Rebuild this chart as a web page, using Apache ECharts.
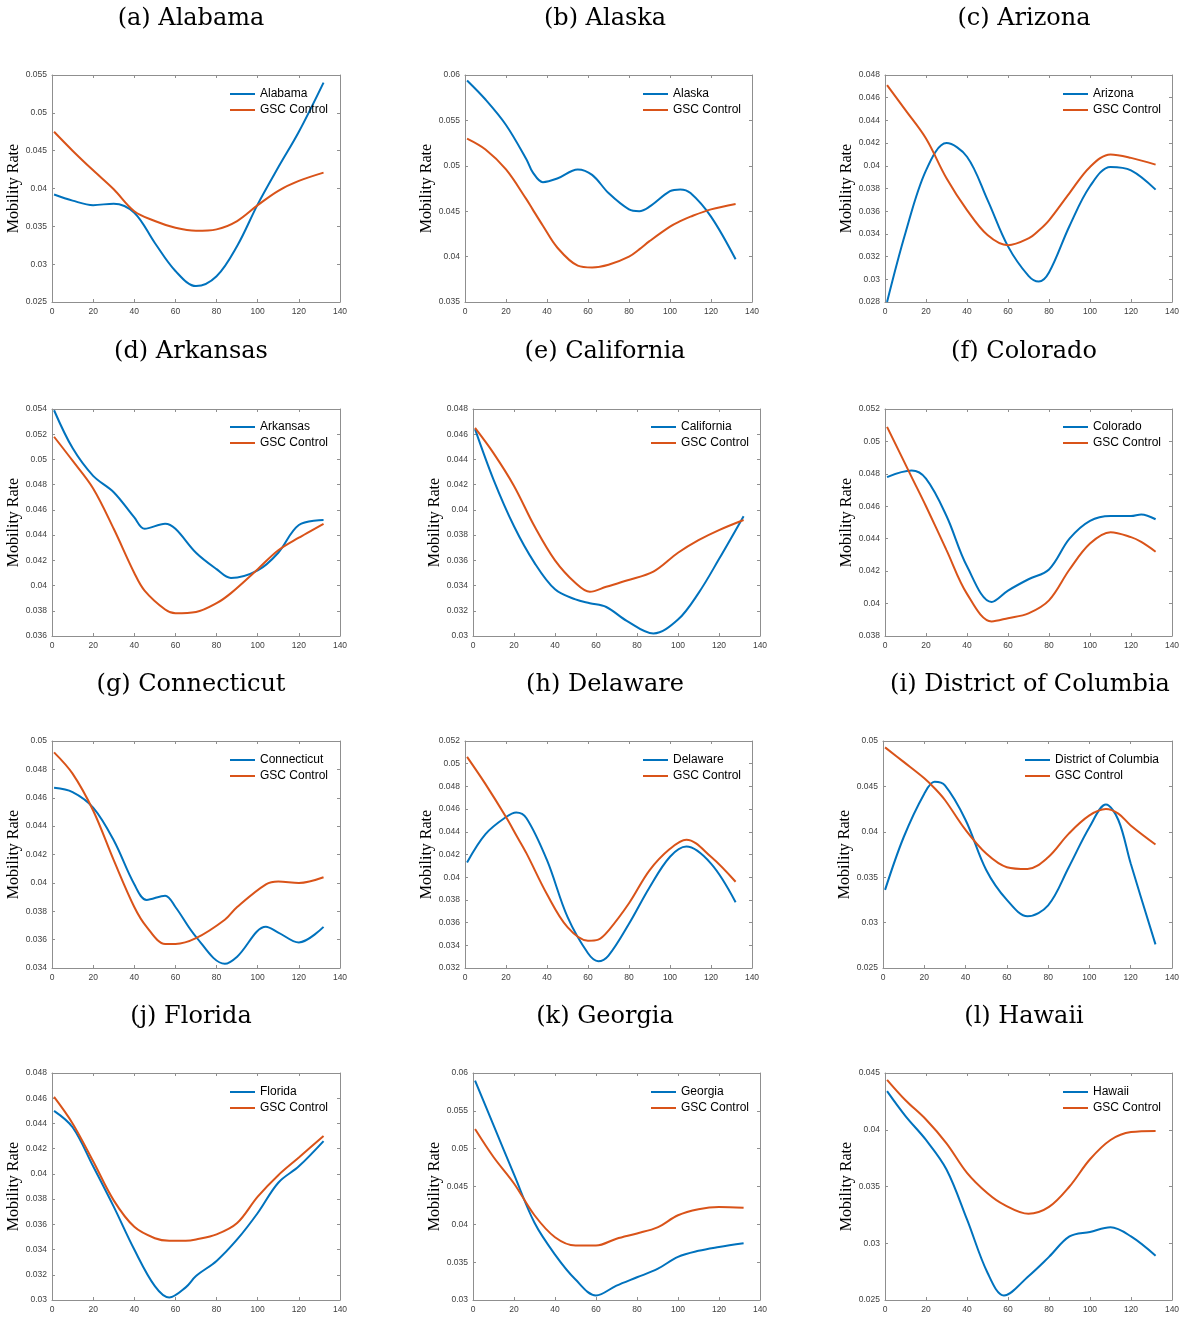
<!DOCTYPE html>
<html>
<head>
<meta charset="utf-8">
<script src="https://cdn.jsdelivr.net/npm/echarts@6/dist/echarts.min.js"></script>
<style>
html,body{margin:0;padding:0;background:#fff;}
#chart{width:1183px;height:1318px;}
</style>
</head>
<body>
<div id="chart"></div>
<script>
// ---------------- DATA ----------------
const xTicks = [0, 20, 40, 60, 80, 100, 120, 140];
const gscName = 'GSC Control';

const alabamaX = [1,10,20,30,40,50,60,70,80,90,100,110,120,132];
const alabamaState = [0.0392,0.0384,0.0378,0.0380,0.0368,0.0328,0.0291,0.0271,0.0284,0.0324,0.0379,0.0428,0.0475,0.0540];
const alabamaGSC   = [0.0475,0.0450,0.0424,0.0399,0.0370,0.0357,0.0348,0.0344,0.0346,0.0357,0.0378,0.0397,0.0410,0.0421];

const alaskaX = [1,10,20,30,33,38,45,55,62,70,80,85,90,100,105,110,120,132];
const alaskaState = [0.0594,0.0573,0.0545,0.0507,0.0493,0.0482,0.0486,0.0496,0.0490,0.0470,0.0452,0.0450,0.0455,0.0472,0.0474,0.0470,0.0444,0.0397];
const alaskaGSC   = [0.0530,0.0518,0.0496,0.0463,0.0452,0.0434,0.0410,0.0390,0.0388,0.0391,0.0400,0.0408,0.0417,0.0433,0.0439,0.0444,0.0452,0.0458];

const arizonaX = [1,10,20,30,40,50,60,70,75,80,90,100,110,120,132];
const arizonaState = [0.0280,0.0341,0.0396,0.0420,0.0408,0.0370,0.0329,0.0303,0.0298,0.0306,0.0347,0.0382,0.0399,0.0396,0.0379];
const arizonaGSC   = [0.0471,0.0449,0.0424,0.0389,0.0361,0.0339,0.0330,0.0336,0.0343,0.0352,0.0376,0.0399,0.0410,0.0407,0.0401];

const arkansasX = [1,10,20,30,40,45,55,60,70,80,87,100,110,120,132];
const arkansasState = [0.0539,0.0509,0.0487,0.0474,0.0454,0.0445,0.0449,0.0445,0.0426,0.0413,0.0406,0.0412,0.0426,0.0448,0.0452];
const arkansasGSC   = [0.0518,0.0499,0.0477,0.0445,0.0410,0.0396,0.0381,0.0378,0.0379,0.0386,0.0394,0.0413,0.0428,0.0438,0.0449];

const californiaX = [1,10,20,30,40,50,57,65,75,88,100,110,120,132];
const californiaState = [0.0464,0.0424,0.0387,0.0358,0.0337,0.0329,0.0326,0.0323,0.0312,0.0302,0.0313,0.0334,0.0361,0.0395];
const californiaGSC   = [0.0465,0.0445,0.0419,0.0387,0.0360,0.0342,0.0335,0.0339,0.0344,0.0351,0.0366,0.0376,0.0384,0.0392];

const coloradoX = [1,13,20,30,40,52,60,70,80,90,100,110,120,125,132];
const coloradoState = [0.0478,0.0482,0.0477,0.0454,0.0423,0.0401,0.0408,0.0415,0.0421,0.0440,0.0451,0.0454,0.0454,0.0455,0.0452];
const coloradoGSC   = [0.0509,0.0478,0.0460,0.0433,0.0406,0.0389,0.0391,0.0394,0.0402,0.0421,0.0437,0.0444,0.0441,0.0438,0.0432];

const connecticutX = [1,10,20,30,40,46,55,60,70,84,90,104,110,120,132];
const connecticutState = [0.0467,0.0464,0.0453,0.0430,0.0399,0.0388,0.0391,0.0383,0.0362,0.0343,0.0348,0.0369,0.0365,0.0358,0.0369];
const connecticutGSC   = [0.0492,0.0477,0.0451,0.0416,0.0383,0.0369,0.0357,0.0357,0.0361,0.0374,0.0383,0.0399,0.0401,0.0400,0.0404];

const delawareX = [1,10,20,25,30,40,50,60,65,70,80,90,100,108,120,132];
const delawareState = [0.0413,0.0438,0.0453,0.0457,0.0452,0.0415,0.0365,0.0333,0.0326,0.0331,0.0359,0.0391,0.0418,0.0427,0.0412,0.0378];
const delawareGSC   = [0.0506,0.0482,0.0453,0.0437,0.0421,0.0385,0.0356,0.0344,0.0345,0.0353,0.0377,0.0406,0.0425,0.0433,0.0418,0.0396];

const dcX = [1,10,20,25,30,40,50,60,70,80,90,100,108,114,120,132];
const dcState = [0.0336,0.0394,0.0442,0.0455,0.0451,0.0413,0.0358,0.0325,0.0307,0.0319,0.0361,0.0405,0.0430,0.0413,0.0365,0.0276];
const dcGSC   = [0.0493,0.0477,0.0459,0.0448,0.0435,0.0402,0.0376,0.0361,0.0359,0.0372,0.0398,0.0418,0.0425,0.0420,0.0407,0.0386];

const floridaX = [1,10,20,30,40,50,57,65,70,80,90,100,110,120,132];
const floridaState = [0.0450,0.0437,0.0406,0.0374,0.0340,0.0311,0.0302,0.0310,0.0319,0.0331,0.0348,0.0369,0.0393,0.0406,0.0426];
const floridaGSC   = [0.0461,0.0440,0.0410,0.0379,0.0358,0.0349,0.0347,0.0347,0.0348,0.0352,0.0361,0.0382,0.0399,0.0413,0.0430];

const georgiaX = [1,10,20,30,40,50,60,70,80,90,100,110,120,132];
const georgiaState = [0.0590,0.0531,0.0466,0.0402,0.0360,0.0327,0.0306,0.0319,0.0330,0.0341,0.0357,0.0365,0.0370,0.0375];
const georgiaGSC   = [0.0526,0.0489,0.0454,0.0412,0.0383,0.0372,0.0372,0.0381,0.0388,0.0396,0.0412,0.0420,0.0423,0.0422];

const hawaiiX = [1,10,20,30,40,50,58,70,80,90,100,110,120,132];
const hawaiiState = [0.0434,0.0412,0.0391,0.0365,0.0321,0.0274,0.0254,0.0271,0.0288,0.0306,0.0310,0.0314,0.0306,0.0289];
const hawaiiGSC   = [0.0444,0.0426,0.0409,0.0388,0.0362,0.0344,0.0334,0.0326,0.0332,0.0350,0.0374,0.0391,0.0398,0.0399];

// y-axis tick ranges (min, max, step)
const yTicksAlabama = [0.025, 0.055, 0.005];
const yTicksAlaska = [0.035, 0.060, 0.005];
const yTicksArizona = [0.028, 0.048, 0.002];
const yTicksArkansas = [0.036, 0.054, 0.002];
const yTicksCalifornia = [0.030, 0.048, 0.002];
const yTicksColorado = [0.038, 0.052, 0.002];
const yTicksConnecticut = [0.034, 0.050, 0.002];
const yTicksDelaware = [0.032, 0.052, 0.002];
const yTicksDC = [0.025, 0.050, 0.005];
const yTicksFlorida = [0.030, 0.048, 0.002];
const yTicksGeorgia = [0.030, 0.060, 0.005];
const yTicksHawaii = [0.025, 0.045, 0.005];

const panels = [
  {title:'(a) Alabama', name:'Alabama', x:alabamaX, s:alabamaState, g:alabamaGSC, y:yTicksAlabama},
  {title:'(b) Alaska', name:'Alaska', x:alaskaX, s:alaskaState, g:alaskaGSC, y:yTicksAlaska},
  {title:'(c) Arizona', name:'Arizona', x:arizonaX, s:arizonaState, g:arizonaGSC, y:yTicksArizona},
  {title:'(d) Arkansas', name:'Arkansas', x:arkansasX, s:arkansasState, g:arkansasGSC, y:yTicksArkansas},
  {title:'(e) California', name:'California', x:californiaX, s:californiaState, g:californiaGSC, y:yTicksCalifornia},
  {title:'(f) Colorado', name:'Colorado', x:coloradoX, s:coloradoState, g:coloradoGSC, y:yTicksColorado},
  {title:'(g) Connecticut', name:'Connecticut', x:connecticutX, s:connecticutState, g:connecticutGSC, y:yTicksConnecticut},
  {title:'(h) Delaware', name:'Delaware', x:delawareX, s:delawareState, g:delawareGSC, y:yTicksDelaware},
  {title:'(i) District of Columbia', name:'District of Columbia', x:dcX, s:dcState, g:dcGSC, y:yTicksDC},
  {title:'(j) Florida', name:'Florida', x:floridaX, s:floridaState, g:floridaGSC, y:yTicksFlorida},
  {title:'(k) Georgia', name:'Georgia', x:georgiaX, s:georgiaState, g:georgiaGSC, y:yTicksGeorgia},
  {title:'(l) Hawaii', name:'Hawaii', x:hawaiiX, s:hawaiiState, g:hawaiiGSC, y:yTicksHawaii}
];

// ---------------- LAYOUT ----------------
const rowTop = [75, 409, 741, 1073];
const plotH = 227;
const colLeft = [[52,465,885],[52,473,885],[52,465,883],[52,473,885]];
const colRight = 340, col2Right = [752,760,752,760], col3Right = 1172;
const titleX = [191, 605, 1024];
const titleY = [19, 352, 685, 1017];
const legendLeft = [[230,643,1063],[230,651,1063],[230,643,1025],[230,651,1063]];
const legendTop = [87, 420, 753, 1085];

const BLUE = '#0072BD', ORANGE = '#D95319';
const AX = '#8f8f8f';

const option = {animation:false, backgroundColor:'#fff', grid:[], xAxis:[], yAxis:[], series:[], legend:[], graphic:[]};

panels.forEach((p, i) => {
  const r = Math.floor(i / 3), c = i % 3;
  const left = colLeft[r][c];
  const right = c === 0 ? colRight : (c === 1 ? col2Right[r] : col3Right);
  option.grid.push({left:left, top:rowTop[r], width:right-left, height:plotH});
  const axisLine = {show:true, onZero:false, lineStyle:{color:AX, width:1}};
  const tick = {show:true, inside:true, length:3, lineStyle:{color:AX, width:1}};
  const lbl = {fontSize:8.5, color:'#404040', fontFamily:'Liberation Sans, Arial, sans-serif'};
  option.xAxis.push({type:'value', gridIndex:i, min:xTicks[0], max:xTicks[xTicks.length-1], interval:xTicks[1]-xTicks[0],
    axisLine, axisTick:tick, splitLine:{show:false}, axisLabel:Object.assign({margin:5}, lbl)});
  option.xAxis.push({type:'value', gridIndex:i, position:'top', min:xTicks[0], max:xTicks[xTicks.length-1], interval:xTicks[1]-xTicks[0],
    axisLine, axisTick:tick, splitLine:{show:false}, axisLabel:{show:false}});
  option.yAxis.push({type:'value', gridIndex:i, min:p.y[0], max:p.y[1], interval:p.y[2],
    axisLine, axisTick:tick, splitLine:{show:false},
    axisLabel:Object.assign({margin:5, formatter:v => String(+v.toFixed(4))}, lbl),
    name:'Mobility Rate', nameLocation:'middle', nameGap:29,
    nameTextStyle:{fontFamily:'Liberation Serif, serif', fontSize:16, color:'#000'}});
  option.yAxis.push({type:'value', gridIndex:i, position:'right', min:p.y[0], max:p.y[1], interval:p.y[2],
    axisLine, axisTick:tick, splitLine:{show:false}, axisLabel:{show:false}});
  option.series.push({type:'line', name:p.name, xAxisIndex:2*i, yAxisIndex:2*i,
    data:p.x.map((x,k)=>[x,p.s[k]]), showSymbol:false, smooth:0.35,
    lineStyle:{width:2, color:BLUE}, itemStyle:{color:BLUE}});
  option.series.push({type:'line', name:gscName, xAxisIndex:2*i, yAxisIndex:2*i,
    data:p.x.map((x,k)=>[x,p.g[k]]), showSymbol:false, smooth:0.35,
    lineStyle:{width:2, color:ORANGE}, itemStyle:{color:ORANGE}});
  option.legend.push({data:[p.name, gscName], orient:'vertical', left:legendLeft[r][c], top:legendTop[r],
    icon:'rect', itemWidth:25, itemHeight:2, itemGap:2, padding:0, selectedMode:false,
    textStyle:{fontSize:12, color:'#000', fontFamily:'Liberation Sans, Arial, sans-serif', lineHeight:14}});
  option.graphic.push({type:'text', x:titleX[c] + (i===8 ? 6 : 0), y:titleY[r],
    style:{text:p.title, textAlign:'center', textVerticalAlign:'middle', fill:'#000',
      font:'24px "DejaVu Serif", serif'}});
});

const chart = echarts.init(document.getElementById('chart'), null, {renderer:'canvas'});
chart.setOption(option);
</script>
</body>
</html>
